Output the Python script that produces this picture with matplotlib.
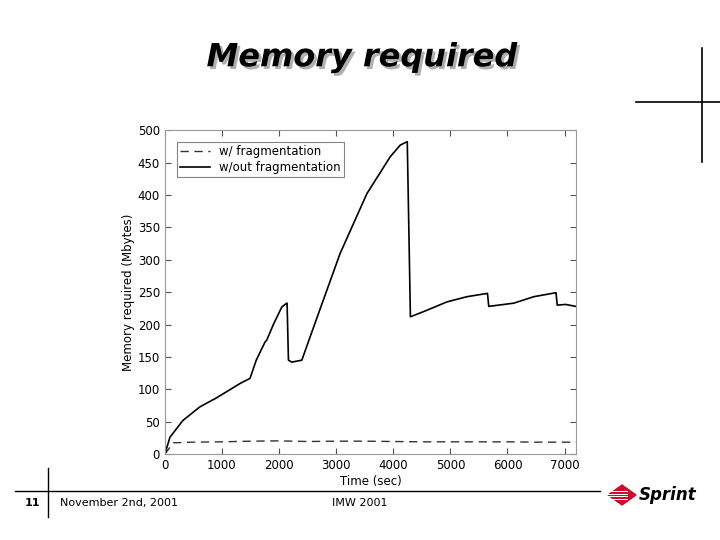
import numpy as np
import matplotlib.pyplot as plt
import matplotlib.patheffects as pe
from matplotlib.lines import Line2D
from matplotlib.patches import Polygon

# solid curve: memory without fragmentation
t_nofrag = [0, 88, 316, 614, 907, 1316, 1491, 1600, 1754, 1784, 1900, 2047, 2134, 2140,
            2164, 2222, 2398, 2690, 3070, 3538, 3947, 4123, 4240, 4245,
            4300, 4532, 4941, 5292, 5643, 5650, 5672, 6111, 6462, 6842, 6850, 6871, 7018, 7200]
m_nofrag = [0, 26, 52, 73, 87, 109, 117, 145, 173, 176, 200, 227, 233, 233,
            145, 142, 145, 217, 310, 402, 459, 477, 482, 482,
            212, 220, 235, 243, 248, 248, 228, 233, 243, 249, 249, 230, 231, 228]

# dashed curve: memory with fragmentation
t_frag = [0, 146, 500, 1000, 1500, 2000, 2500, 3000, 3500, 4000, 4500, 5000, 5500, 6000, 6500, 7000, 7200]
m_frag = [0, 17.5, 18.5, 19, 20, 20.5, 19.5, 20, 20, 19.5, 19, 19, 19, 19, 18.5, 18.5, 18.5]

fig = plt.figure(figsize=(7.2, 5.4), dpi=100)
fig.patch.set_facecolor('white')

# title with drop shadow
fig.text(0.503, 0.893, 'Memory required', ha='center', va='center', fontsize=23,
         fontweight='bold', fontstyle='italic', color='black',
         path_effects=[pe.withSimplePatchShadow(offset=(2, -2), shadow_rgbFace='#b0b0b0', alpha=1)])

ax = fig.add_axes([0.229, 0.159, 0.571, 0.6])
ax.plot(t_frag, m_frag, color='#333333', linestyle=(0, (6, 4)), linewidth=1, label='w/ fragmentation')
ax.plot(t_nofrag, m_nofrag, color='black', linewidth=1.2, label='w/out fragmentation')
ax.set_xlim(0, 7200)
ax.set_ylim(0, 500)
ax.set_xticks(range(0, 7001, 1000))
ax.set_yticks(range(0, 501, 50))
ax.tick_params(direction='in', top=True, right=True, labelsize=8.5, length=4, color='#555555')
for s in ax.spines.values():
    s.set_color('#999999')
ax.set_xlabel('Time (sec)', fontsize=8.5, labelpad=2)
ax.set_ylabel('Memory required (Mbytes)', fontsize=8.5, labelpad=2)
leg = ax.legend(loc='upper left', fontsize=8.5, frameon=True, fancybox=False,
                edgecolor='#666666', borderpad=0.3, handlelength=2.5, labelspacing=0.2,
                borderaxespad=1.0)
leg.get_frame().set_linewidth(0.8)

# slide decoration
fig.add_artist(Line2D([636/720, 1.0], [1-102/540, 1-102/540], color='black', lw=1.2))
fig.add_artist(Line2D([702/720, 702/720], [1-48/540, 1-162/540], color='black', lw=1.2))
fig.add_artist(Line2D([15/720, 600/720], [1-491/540, 1-491/540], color='black', lw=1))
fig.add_artist(Line2D([48/720, 48/720], [1-468/540, 1-517/540], color='black', lw=1))
fig.text(25/720, 1-503/540, '11', fontsize=8, fontweight='bold', va='center')
fig.text(60/720, 1-503/540, 'November 2nd, 2001', fontsize=8, va='center')
fig.text(360/720, 1-503/540, 'IMW 2001', fontsize=8, va='center', ha='center')

# Sprint logo
cx, cy = 622/720, 1-495/540
fig.add_artist(Polygon([[cx-14/720, cy], [cx, cy+10/540], [cx+14/720, cy], [cx, cy-10/540]],
                       closed=True, transform=fig.transFigure, color='#c8102e'))
for dy in [-4, -1.3, 1.3, 4]:
    fig.add_artist(Line2D([cx-18/720, cx+5/720], [cy+dy/540, cy+dy/540], color='white', lw=0.7))
fig.text(639/720, cy, 'Sprint', fontsize=12, fontweight='bold', fontstyle='italic',
         va='center', color='black')

plt.savefig('out.png', dpi=100)
